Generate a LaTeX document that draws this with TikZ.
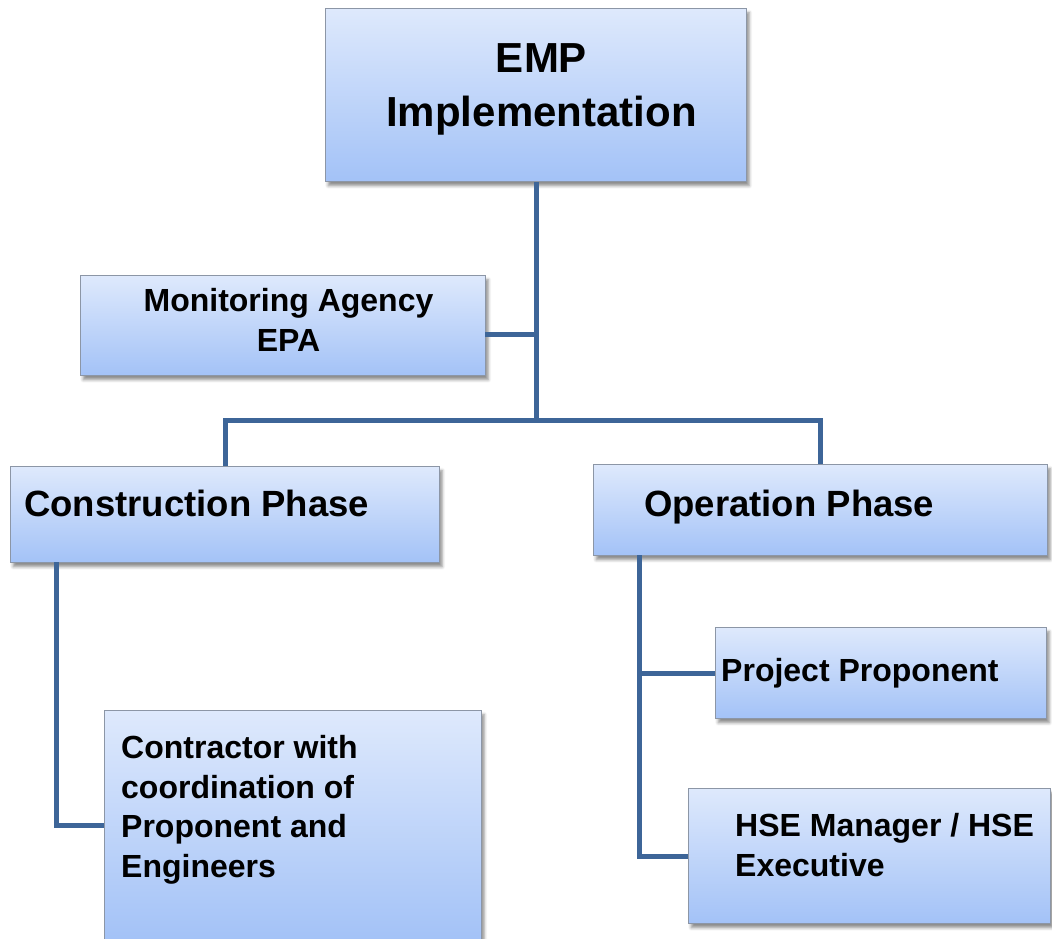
\documentclass[tikz,border=0pt]{standalone}
\usepackage{fontspec}
\setmainfont{Liberation Sans}
\usetikzlibrary{shadows.blur,calc}
\definecolor{boxtop}{RGB}{222,233,252}
\definecolor{boxbot}{RGB}{163,194,247}
\definecolor{boxedge}{RGB}{140,150,166}
\definecolor{linkc}{RGB}{61,101,152}
\tikzset{
  orgbox/.style={rectangle, draw=boxedge, line width=1.4pt, top color=boxtop, bottom color=boxbot,
    anchor=north west, inner sep=0pt,
    blur shadow={shadow xshift=2.5pt, shadow yshift=-4pt, shadow blur radius=3pt, shadow opacity=45}},
  link/.style={draw=linkc, line width=5pt},
  txt/.style={inner sep=0pt, font=\bfseries\fontsize{32}{39.5}\selectfont},
  txtone/.style={txt, anchor=west, text height=22.9pt, text depth=0pt},
  txtbig/.style={txt, anchor=west, text height=26.1pt, text depth=0pt, font=\bfseries\fontsize{36.5}{44}\selectfont},
}
\begin{document}
\begin{tikzpicture}[x=1pt,y=-1pt]
\useasboundingbox (0,0) rectangle (1052,938);
\clip (0,0) rectangle (1052,938);
% boxes
\node[orgbox, minimum width=421pt, minimum height=173pt] (emp) at (325,8) {};
\node[orgbox, minimum width=405pt, minimum height=100pt] (mon) at (80,275) {};
\node[orgbox, minimum width=429pt, minimum height=96pt] (con) at (10,466) {};
\node[orgbox, minimum width=454pt, minimum height=91pt] (op) at (593,464) {};
\node[orgbox, minimum width=331pt, minimum height=91pt] (pp) at (715,627) {};
\node[orgbox, minimum width=362pt, minimum height=135pt] (hse) at (688,788) {};
\node[orgbox, minimum width=377pt, minimum height=230pt] (ctr) at (104,710) {};
% texts
\node[txt, anchor=north, align=center, font=\bfseries\fontsize{42}{54}\selectfont] (emptxt) at (541.5,43) {EMP\\Implementation};
\node[txt, anchor=north, align=center] (montxt) at (288.5,288.5) {Monitoring Agency\\EPA};
\node[txtbig] (contxt) at (24,503) {Construction Phase};
\node[txtbig] (optxt) at (644,503) {Operation Phase};
\node[txtone] (pptxt) at (721,670) {Project Proponent};
\node[txt, anchor=north west, align=left] (hsetxt) at (735,813.5) {HSE Manager / HSE\\Executive};
\node[txt, anchor=north west, align=left] (ctrtxt) at (121,735.5) {Contractor with\\coordination of\\Proponent and\\Engineers};
% connectors
\coordinate (junc) at (536,420);
\coordinate (monbr) at (485,334);
\coordinate (conbr) at (56,562);
\coordinate (opbr) at (639,555);
\draw[link] (emp.south -| junc) -- (junc);
\draw[link] (monbr) -- (monbr -| junc);
\draw[link] (con.north) |- (junc) -| (op.north);
\draw[link] (conbr) |- (ctr.west);
\draw[link] (opbr) |- (hse.west);
\draw[link] (opbr |- pp.west) -- (pp.west);
\end{tikzpicture}
\end{document}
